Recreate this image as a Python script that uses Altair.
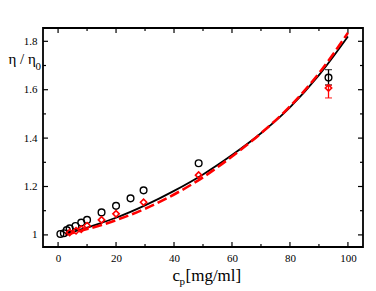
import altair as alt
import pandas as pd

# ---- data ----
black_c = [0.8, 2.0, 3.0, 4.0, 6.0, 8.0, 10.0, 15.0, 20.0, 25.0, 29.5, 48.5, 93.3]
black_y = [1.004, 1.007, 1.02, 1.027, 1.037, 1.051, 1.062, 1.093, 1.12, 1.151, 1.184, 1.296, 1.65]
red_c = [4.0, 6.2, 8.0, 10.0, 15.0, 20.0, 29.5, 48.5, 93.3]
red_y = [1.01, 1.017, 1.024, 1.038, 1.062, 1.087, 1.135, 1.247, 1.607]

black_err_c = [93.3]
black_err_lo = [1.62]
black_err_hi = [1.683]
red_err_c = [93.3]
red_err_lo = [1.566]
red_err_hi = [1.618]

fit_black_c = [3, 5, 10, 15, 20, 30, 40, 50, 60, 70, 80, 90, 100]
fit_black_y = [1.005, 1.012, 1.030, 1.050, 1.071, 1.122, 1.182, 1.25, 1.33, 1.42, 1.527, 1.66, 1.82]
fit_red_c = [2.5, 5, 10, 15, 20, 30, 40, 50, 60, 70, 80, 90, 100]
fit_red_y = [1.0, 1.008, 1.024, 1.041, 1.061, 1.108, 1.167, 1.238, 1.324, 1.42, 1.531, 1.668, 1.835]

x_major = [0, 20, 40, 60, 80, 100]
x_minor = [10, 30, 50, 70, 90]
y_major = [1, 1.2, 1.4, 1.6, 1.8]
y_minor = [1.1, 1.3, 1.5, 1.7]

W, H = 320, 219
FONT = "Liberation Serif"

xs = alt.Scale(domain=[-5.2, 105.2], nice=False, zero=False)
ys = alt.Scale(domain=[0.95, 1.855], nice=False, zero=False)
xaxis = alt.Axis(values=x_major, title=None, grid=False, domain=False, ticks=False,
                 labelPadding=5, labelFont=FONT, labelFontSize=11, labelColor="black",
                 format="d")
yaxis = alt.Axis(values=y_major, title=None, grid=False, domain=False, ticks=False,
                 labelPadding=6, labelFont=FONT, labelFontSize=11, labelColor="black",
                 format="~g")


def X(f):
    return alt.X(f, type="quantitative", scale=xs, axis=xaxis)


def Y(f):
    return alt.Y(f, type="quantitative", scale=ys, axis=yaxis)


df_fb = pd.DataFrame({"c": fit_black_c, "y": fit_black_y})
df_fr = pd.DataFrame({"c": fit_red_c, "y": fit_red_y})
df_b = pd.DataFrame({"c": black_c, "y": black_y})
df_r = pd.DataFrame({"c": red_c, "y": red_y})
df_be = pd.DataFrame({"c": black_err_c, "lo": black_err_lo, "hi": black_err_hi})
df_re = pd.DataFrame({"c": red_err_c, "lo": red_err_lo, "hi": red_err_hi})

line_black = alt.Chart(df_fb).mark_line(color="black", strokeWidth=1.8, interpolate="monotone").encode(
    x=X("c"), y=Y("y"))
line_red = alt.Chart(df_fr).mark_line(color="#ff0000", strokeWidth=2.6, strokeDash=[10, 4],
                                      interpolate="monotone").encode(x=X("c"), y=Y("y"))


def errbar(df, color):
    stem = alt.Chart(df).mark_rule(color=color, strokeWidth=1.3).encode(x=X("c"), y=Y("lo"), y2="hi")
    cap_lo = alt.Chart(df).mark_tick(color=color, orient="horizontal", size=7, thickness=1.3).encode(
        x=X("c"), y=Y("lo"))
    cap_hi = alt.Chart(df).mark_tick(color=color, orient="horizontal", size=7, thickness=1.3).encode(
        x=X("c"), y=Y("hi"))
    return [stem, cap_lo, cap_hi]


pts_black = alt.Chart(df_b).mark_point(shape="circle", filled=False, color="black", size=45,
                                       strokeWidth=1.4, opacity=1).encode(x=X("c"), y=Y("y"))
pts_red = alt.Chart(df_r).mark_point(shape="diamond", filled=False, color="#ff0000", size=40,
                                     strokeWidth=1.6, opacity=1).encode(x=X("c"), y=Y("y"))


# inward tick marks on all four sides
def xticks(vals, length):
    d = pd.DataFrame({"v": vals})
    b = alt.Chart(d).mark_rule(color="black", strokeWidth=1.2).encode(
        x=X("v"), y=alt.value(H), y2=alt.value(H - length))
    t = alt.Chart(d).mark_rule(color="black", strokeWidth=1.2).encode(
        x=X("v"), y=alt.value(0), y2=alt.value(length))
    return [b, t]


def yticks(vals, length):
    d = pd.DataFrame({"v": vals})
    l = alt.Chart(d).mark_rule(color="black", strokeWidth=1.2).encode(
        y=Y("v"), x=alt.value(0), x2=alt.value(length))
    r = alt.Chart(d).mark_rule(color="black", strokeWidth=1.2).encode(
        y=Y("v"), x=alt.value(W), x2=alt.value(W - length))
    return [l, r]


one = pd.DataFrame({"a": [0]})


def txt(s, x, y, size):
    return alt.Chart(one).mark_text(text=s, font=FONT, fontSize=size, color="black",
                                    align="left", baseline="alphabetic").encode(
        x=alt.value(x), y=alt.value(y))


titles = [
    txt("c", 129.5, H + 34, 17),
    txt("p", 136.5, H + 38, 11),
    txt("[mg/ml]", 142.5, H + 34, 17),
    txt("η / η", -34.5, 36, 15),
    txt("0", -7.5, 42, 11),
]

layers = (xticks(x_major, 5) + xticks(x_minor, 3) + yticks(y_major, 5) + yticks(y_minor, 3)
          + [line_black, line_red]
          + errbar(df_be, "black") + errbar(df_re, "#ff0000")
          + [pts_black, pts_red] + titles)

chart = alt.layer(*layers).properties(
    width=W, height=H,
    autosize=alt.AutoSizeParams(type="none"),
    padding={"left": 35, "top": 20, "right": 5, "bottom": 42},
    background="white",
).configure_view(stroke="black", strokeWidth=1.8)

chart.save("out.html", embed_options={"renderer": "svg", "actions": False})
